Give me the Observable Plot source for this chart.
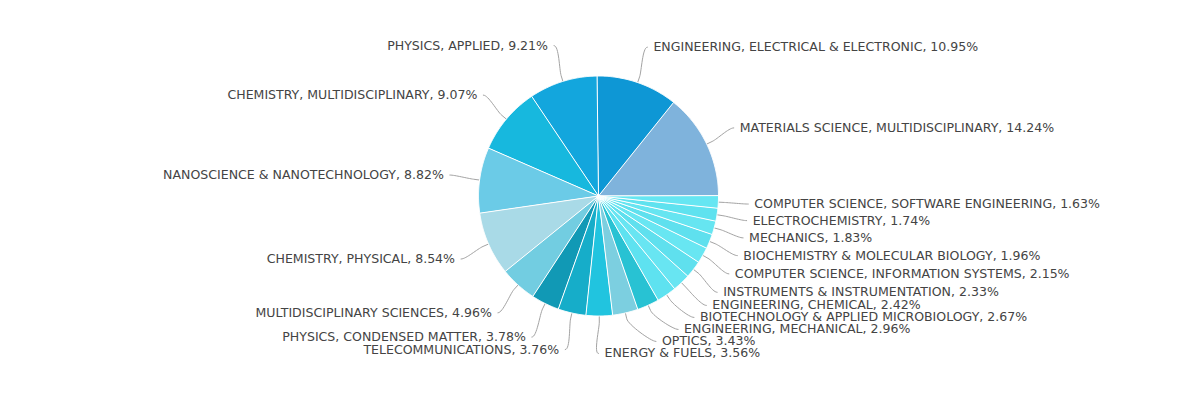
<!DOCTYPE html>
<html><head><meta charset="utf-8">
<script src="https://cdn.jsdelivr.net/npm/d3@7"></script>
<script src="https://cdn.jsdelivr.net/npm/@observablehq/plot@0.6"></script>
<style>html,body{margin:0;padding:0;background:#fff}#chart{width:1198px;height:393px}</style>
</head><body><div id="chart"></div>
<script>
const categories = [
  "MATERIALS SCIENCE, MULTIDISCIPLINARY",
  "ENGINEERING, ELECTRICAL & ELECTRONIC",
  "PHYSICS, APPLIED",
  "CHEMISTRY, MULTIDISCIPLINARY",
  "NANOSCIENCE & NANOTECHNOLOGY",
  "CHEMISTRY, PHYSICAL",
  "MULTIDISCIPLINARY SCIENCES",
  "PHYSICS, CONDENSED MATTER",
  "TELECOMMUNICATIONS",
  "ENERGY & FUELS",
  "OPTICS",
  "ENGINEERING, MECHANICAL",
  "BIOTECHNOLOGY & APPLIED MICROBIOLOGY",
  "ENGINEERING, CHEMICAL",
  "INSTRUMENTS & INSTRUMENTATION",
  "COMPUTER SCIENCE, INFORMATION SYSTEMS",
  "BIOCHEMISTRY & MOLECULAR BIOLOGY",
  "MECHANICS",
  "ELECTROCHEMISTRY",
  "COMPUTER SCIENCE, SOFTWARE ENGINEERING"
];
const shares = [14.24, 10.95, 9.21, 9.07, 8.82, 8.54, 4.96, 3.78, 3.76, 3.56, 3.43, 2.96, 2.67, 2.42, 2.33, 2.15, 1.96, 1.83, 1.74, 1.63];
const palette = [
  "#7fb3dc", "#0e97d5", "#13a6dd", "#17b8de", "#6bcbe7", "#a9dae7", "#72cde1",
  "#1199b5", "#16adc9", "#21c4df", "#7ccfe0", "#28c2d3", "#5ee2f0", "#68e5f2",
  "#5fe0ee", "#68e6f2", "#5fe0ee", "#66e5f1", "#5fe2ef", "#66e6f2"
];

// layout (pixels)
const W = 1198, H = 393, CX = 598, CY = 195.5, R = 120;
const LRX = 150, LRY = 157.4, GAP = 6, LH = 12;

const total = d3.sum(shares);
let acc = 0;
const slices = categories.map((name, i) => {
  const a0 = acc / total * 2 * Math.PI; acc += shares[i];
  const a1 = acc / total * 2 * Math.PI;
  return {name, value: shares[i], a0, a1, mid: (a0 + a1) / 2, color: palette[i],
          label: `${name}, ${shares[i].toFixed(2)}%`};
});

const slicePts = [];
for (const s of slices) {
  slicePts.push({name: s.name, color: s.color, x: 0, y: 0});
  const n = Math.max(2, Math.ceil((s.a1 - s.a0) / (Math.PI / 360)));
  for (let k = 0; k <= n; k++) {
    const a = s.a0 + (s.a1 - s.a0) * k / n;
    slicePts.push({name: s.name, color: s.color, x: R * Math.cos(a), y: -R * Math.sin(a)});
  }
}

const labels = slices.map(s => ({...s, right: Math.cos(s.mid) >= 0, ny: -LRY * Math.sin(s.mid)}));
function distribute(group, h, lo, hi) {
  group.sort((a, b) => a.ny - b.ny);
  group.forEach((d, i) => { d.y = Math.max(lo, d.ny); if (i > 0 && d.y < group[i-1].y + h) d.y = group[i-1].y + h; });
  const n = group.length;
  if (group[n-1].y > hi) group[n-1].y = hi;
  for (let i = n - 2; i >= 0; i--) if (group[i].y > group[i+1].y - h) group[i].y = group[i+1].y - h;
}
const rightL = labels.filter(d => d.right), leftL = labels.filter(d => !d.right);
distribute(rightL, LH, -LRY, LRY);
distribute(leftL, LH, -LRY, LRY);
for (const d of labels) {
  const sg = d.right ? 1 : -1;
  const t = Math.min(1, Math.abs(d.y) / LRY);
  d.xc = sg * LRX * Math.sqrt(1 - t * t);
  d.tx = d.xc + sg * GAP;
}

const connPts = [];
for (const d of labels) {
  const sg = d.right ? 1 : -1;
  const T = [R * Math.cos(d.mid), -R * Math.sin(d.mid)];
  const B = [(R + 6) * Math.cos(d.mid), -(R + 6) * Math.sin(d.mid)];
  const P0 = [d.xc, d.y], P1 = [d.xc - sg * 5, d.y], P2 = [2 * B[0] - T[0], 2 * B[1] - T[1]];
  for (let k = 0; k <= 16; k++) {
    const t = k / 16, u = 1 - t;
    connPts.push({name: d.name,
      x: u*u*u*P0[0] + 3*u*u*t*P1[0] + 3*u*t*t*P2[0] + t*t*t*B[0],
      y: u*u*u*P0[1] + 3*u*u*t*P1[1] + 3*u*t*t*P2[1] + t*t*t*B[1]});
  }
  connPts.push({name: d.name, x: T[0], y: T[1]});
}

const textStyle = {fontSize: 12.55, fontFamily: "DejaVu Sans, Verdana, sans-serif", fill: "#444"};
const chart = Plot.plot({
  width: W, height: H, margin: 0,
  x: {domain: [-CX, W - CX], range: [0, W], axis: null},
  y: {domain: [-CY, H - CY], range: [0, H], axis: null},
  color: {type: "identity"},
  style: {background: "#fff", overflow: "visible"},
  marks: [
    Plot.line(connPts, {x: "x", y: "y", z: "name", stroke: "#a3a3a3", strokeWidth: 1, curve: "linear"}),
    Plot.line(slicePts, {x: "x", y: "y", z: "name", fill: "color", stroke: "#ffffff", strokeWidth: 1, strokeLinejoin: "round", curve: "linear-closed"}),
    Plot.text(rightL, {x: "tx", y: "y", text: "label", textAnchor: "start", ...textStyle}),
    Plot.text(leftL, {x: "tx", y: "y", text: "label", textAnchor: "end", ...textStyle})
  ]
});
document.getElementById("chart").appendChild(chart);
</script>
</body></html>
